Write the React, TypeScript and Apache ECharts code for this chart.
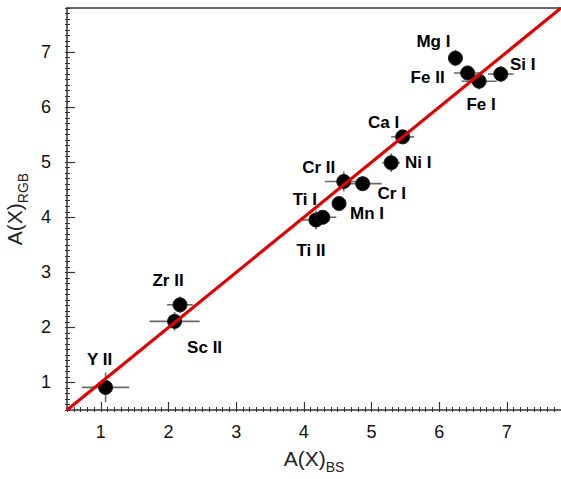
import React, { useEffect, useRef } from "react";
import * as echarts from "echarts";

const elements = ["Y II", "Sc II", "Zr II", "Ti II", "Ti I", "Mn I", "Cr II", "Cr I", "Ni I", "Ca I", "Mg I", "Fe II", "Fe I", "Si I"];
const abundBS = [1.07, 2.09, 2.17, 4.18, 4.28, 4.52, 4.59, 4.87, 5.29, 5.46, 6.24, 6.42, 6.59, 6.91];
const abundRGB = [0.91, 2.11, 2.41, 3.95, 4.0, 4.25, 4.65, 4.61, 4.99, 5.46, 6.89, 6.62, 6.47, 6.6];
const errBS = [0.35, 0.37, 0.19, 0.2, 0.2, 0.08, 0.28, 0.28, 0.13, 0.17, 0.1, 0.2, 0.26, 0.19];
const errRGB = [0.27, 0.17, 0.15, 0.17, 0.1, 0.08, 0.18, 0.1, 0.17, 0.1, 0.15, 0.1, 0.15, 0.15];
const labelOffsets: [number, number][] = [
  [-6, -28], [30, 26], [-12, -24], [-5, 30], [-18, -18], [28, 10], [-25, -14],
  [29, 10], [27, 0], [-19, -14], [-22, -17], [-40, 5], [2, 23], [22, -10],
];
const majorTicks = [1, 2, 3, 4, 5, 6, 7];
const axisMin = 0.5;
const axisMax = 7.8;
const oneToOne = [[0.5, 0.5], [7.8, 7.8]];

export default function App() {
  const ref = useRef<HTMLDivElement>(null);
  useEffect(() => {
    if (!ref.current) return;
    const chart = echarts.init(ref.current, null, { renderer: "svg" });
    const tickFont = { fontFamily: "Liberation Sans", fontSize: 18, color: "#111" };
    const axisLineStyle = { color: "#333", width: 1.5 };
    const pts = elements.map((n, i) => ({
      value: [abundBS[i], abundRGB[i], errBS[i], errRGB[i]],
      name: n,
    }));
    const majorAxis = (dim: "x" | "y") => ({
      type: "value",
      min: axisMin,
      max: axisMax,
      position: dim === "x" ? "bottom" : "left",
      axisLine: { show: true, lineStyle: axisLineStyle },
      axisTick: { show: true, inside: true, length: 8, customValues: majorTicks, lineStyle: { color: "#333", width: 1.2 } },
      axisLabel: { show: true, customValues: majorTicks, margin: dim === "x" ? 13 : 16, ...tickFont },
      splitLine: { show: false },
      name: dim === "x" ? "{a|A(X)}{s|BS}" : "{a|A(X)}{s|RGB}",
      nameLocation: "middle",
      nameGap: dim === "x" ? 35 : 42,
      nameRotate: dim === "x" ? 0 : 90,
      nameTextStyle: {
        rich: {
          a: { fontFamily: "Liberation Sans", fontSize: 21, color: "#222", lineHeight: 24, verticalAlign: "bottom" },
          s: { fontFamily: "Liberation Sans", fontSize: 14, color: "#222", lineHeight: 24, verticalAlign: "bottom", padding: [0, 0, -5, 0] },
        },
      },
    });
    const minorAxis = (dim: "x" | "y") => ({
      type: "value",
      min: axisMin,
      max: axisMax,
      interval: 0.1,
      position: dim === "x" ? "bottom" : "left",
      offset: 2,
      axisLine: { show: false },
      axisTick: { show: true, inside: true, length: 5, lineStyle: { color: "#333", width: 1 } },
      axisLabel: { show: false },
      splitLine: { show: false },
    });
    chart.setOption({
      animation: false,
      grid: { left: 67, right: 0, top: 8, bottom: 69, containLabel: false, outerBoundsMode: "none" },
      xAxis: [
        majorAxis("x"),
        minorAxis("x"),
        {
          type: "value", min: axisMin, max: axisMax, position: "top",
          axisLine: { show: true, lineStyle: axisLineStyle },
          axisTick: { show: false }, axisLabel: { show: false }, splitLine: { show: false },
        },
      ],
      yAxis: [majorAxis("y"), minorAxis("y")],
      series: [
        {
          type: "custom",
          xAxisIndex: 0,
          yAxisIndex: 0,
          data: pts.map((p) => p.value),
          encode: { x: 0, y: 1 },
          z: 2,
          renderItem: (params: any, api: any) => {
            const x = api.value(0), y = api.value(1), ex = api.value(2), ey = api.value(3);
            const l = api.coord([x - ex, y]);
            const r = api.coord([x + ex, y]);
            const b = api.coord([x, y - ey]);
            const t = api.coord([x, y + ey]);
            const style = { stroke: "#6a6a6a", lineWidth: 1.6 };
            return {
              type: "group",
              children: [
                { type: "line", shape: { x1: l[0], y1: l[1], x2: r[0], y2: r[1] }, style },
                { type: "line", shape: { x1: b[0], y1: b[1], x2: t[0], y2: t[1] }, style },
              ],
            };
          },
        },
        {
          type: "scatter",
          xAxisIndex: 0,
          yAxisIndex: 0,
          data: pts,
          symbol: "circle",
          symbolSize: 14,
          z: 3,
          itemStyle: { color: "#000", borderColor: "#1a1a1a", borderWidth: 1, opacity: 1 },
          label: {
            show: true,
            position: "inside",
            formatter: (p: any) => p.name,
            fontFamily: "Liberation Sans",
            fontWeight: "bold",
            fontSize: 17,
            color: "#000",
            align: "center",
            verticalAlign: "middle",
          },
          labelLayout: (params: any) => ({
            dx: labelOffsets[params.dataIndex][0],
            dy: labelOffsets[params.dataIndex][1],
            hideOverlap: false,
          }),
        },
        {
          type: "line",
          xAxisIndex: 0,
          yAxisIndex: 0,
          data: oneToOne,
          symbol: "none",
          z: 4,
          lineStyle: { color: "#e60000", width: 3.2 },
        },
      ],
    });
    return () => chart.dispose();
  }, []);
  return <div ref={ref} style={{ position: "absolute", left: 0, top: 0, width: 561, height: 479 }} />;
}
